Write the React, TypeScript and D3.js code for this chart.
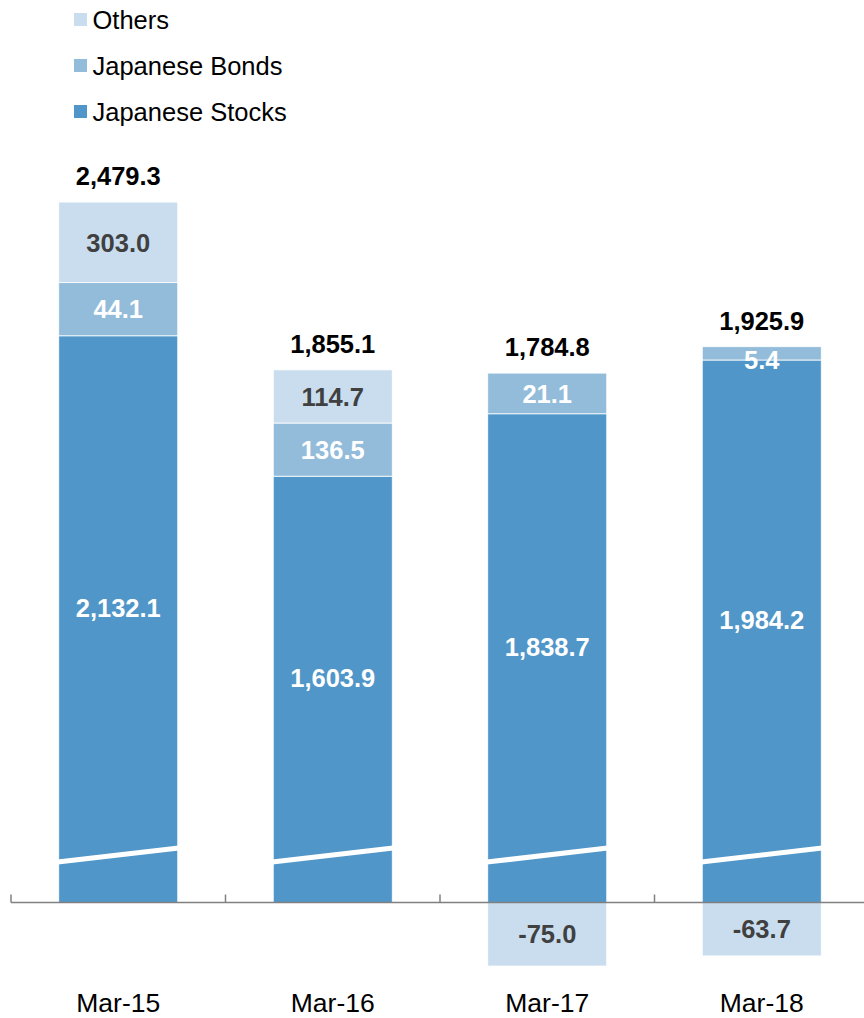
import { useEffect, useRef } from "react";
import * as d3 from "d3";

// values shown on the chart
const categories = ["Mar-15", "Mar-16", "Mar-17", "Mar-18"];
const stocks = [2132.1, 1603.9, 1838.7, 1984.2];
const bonds = [44.1, 136.5, 21.1, 5.4];
const others = [303.0, 114.7, -75.0, -63.7];
const totals = [2479.3, 1855.1, 1784.8, 1925.9];

// drawn extent of each segment (the chart enlarges small pieces)
const stocksDrawn = [2132.1, 1603.9, 1838.7, 2041];
const bondsDrawn = [200, 200, 153, 50];
const othersDrawn = [303.0, 200, -239, -201];

const legendItems = [
  { name: "Others", color: "#c9ddee" },
  { name: "Japanese Bonds", color: "#93bcda" },
  { name: "Japanese Stocks", color: "#5096c8" },
];

const locale = d3.formatLocale({ decimal: ".", thousands: ",", grouping: [3], currency: ["", ""], minus: "-" });
const fmt = locale.format(",.1f");
const FONT = "'Liberation Sans', Arial, sans-serif";

export default function App() {
  const svgRef = useRef<SVGSVGElement | null>(null);

  useEffect(() => {
    if (!svgRef.current) return;
    const width = 864;
    const svg = d3.select(svgRef.current);
    svg.selectAll("*").remove();

    const k = 0.2658; // px per unit
    const y0 = 902.5;
    const y = d3.scaleLinear().domain([0, 1]).range([y0, y0 - k]);
    const x = d3
      .scaleBand<string>()
      .domain(categories)
      .range([11, 11 + 214.5 * 4])
      .paddingInner(0.4452)
      .paddingOuter(0.2226);

    const [cStocks, cBonds, cOthers] = [legendItems[2].color, legendItems[1].color, legendItems[0].color];

    type Seg = { cat: string; lo: number; hi: number; color: string; label: string; textColor: string; kind: string };
    const segs: Seg[] = [];
    categories.forEach((c, i) => {
      segs.push({ cat: c, lo: 0, hi: stocksDrawn[i], color: cStocks, label: fmt(stocks[i]), textColor: "#fff", kind: "stocks" });
      const bTop = stocksDrawn[i] + bondsDrawn[i];
      segs.push({ cat: c, lo: stocksDrawn[i], hi: bTop, color: cBonds, label: fmt(bonds[i]), textColor: "#fff", kind: "bonds" });
      if (othersDrawn[i] >= 0) {
        segs.push({ cat: c, lo: bTop, hi: bTop + othersDrawn[i], color: cOthers, label: fmt(others[i]), textColor: "#404040", kind: "others" });
      } else {
        segs.push({ cat: c, lo: othersDrawn[i], hi: 0, color: cOthers, label: fmt(others[i]), textColor: "#404040", kind: "others" });
      }
    });

    const bw = x.bandwidth();

    svg
      .append("g")
      .selectAll("rect")
      .data(segs)
      .enter()
      .append("rect")
      .attr("x", d => x(d.cat)!)
      .attr("width", bw)
      .attr("y", d => y(d.hi))
      .attr("height", d => y(d.lo) - y(d.hi))
      .attr("fill", d => d.color)
      .attr("stroke", "#fff")
      .attr("stroke-width", 0.8);

    // axis break marks across the stocks bars
    const breakLo = 152;
    const breakHi = 205;
    svg
      .append("g")
      .selectAll("line")
      .data(categories)
      .enter()
      .append("line")
      .attr("x1", d => x(d)! - 1)
      .attr("x2", d => x(d)! + bw + 1)
      .attr("y1", y(breakLo))
      .attr("y2", y(breakHi))
      .attr("stroke", "#fff")
      .attr("stroke-width", 5);

    // baseline axis with ticks at band edges
    const axis = svg.append("g").attr("stroke", "#808080").attr("stroke-width", 1.5);
    axis.append("line").attr("x1", 11).attr("x2", width).attr("y1", y(0)).attr("y2", y(0));
    const edges = categories.map(c => x(c)! - (x.step() - bw) / 2);
    axis
      .selectAll("line.tick")
      .data(edges)
      .enter()
      .append("line")
      .attr("class", "tick")
      .attr("x1", d => d)
      .attr("x2", d => d)
      .attr("y1", y(0))
      .attr("y2", y(0) - 8);

    // segment labels
    const stocksLabelFloor = 83;
    svg
      .append("g")
      .selectAll("text")
      .data(segs)
      .enter()
      .append("text")
      .attr("x", d => x(d.cat)! + bw / 2)
      .attr("y", d => {
        if (d.kind === "stocks") return (y(d.hi) + y(stocksLabelFloor)) / 2;
        const mid = (y(d.hi) + y(d.lo)) / 2;
        // thin pieces: label sits on the lower edge
        return y(d.lo) - y(d.hi) < 20 ? y(d.lo) : mid;
      })
      .attr("dy", "0.36em")
      .attr("text-anchor", "middle")
      .attr("font-family", FONT)
      .attr("font-weight", "bold")
      .attr("font-size", 25.5)
      .attr("fill", d => d.textColor)
      .text(d => d.label);

    // totals
    svg
      .append("g")
      .selectAll("text")
      .data(categories)
      .enter()
      .append("text")
      .attr("x", d => x(d)! + bw / 2)
      .attr("y", (_d, i) => y(stocksDrawn[i] + bondsDrawn[i] + Math.max(0, othersDrawn[i])) - 17)
      .attr("text-anchor", "middle")
      .attr("font-family", FONT)
      .attr("font-weight", "bold")
      .attr("font-size", 25.5)
      .attr("fill", "#000")
      .text((_d, i) => fmt(totals[i]));

    // category labels
    svg
      .append("g")
      .selectAll("text")
      .data(categories)
      .enter()
      .append("text")
      .attr("x", d => x(d)! + bw / 2)
      .attr("y", 1012)
      .attr("text-anchor", "middle")
      .attr("font-family", FONT)
      .attr("font-size", 26.5)
      .attr("fill", "#000")
      .text(d => d);

    // legend
    const lg = svg
      .append("g")
      .selectAll("g")
      .data(legendItems)
      .enter()
      .append("g")
      .attr("transform", (_d, i) => `translate(74, ${29 + i * 46})`);
    lg.append("rect").attr("x", 0).attr("y", -16).attr("width", 13).attr("height", 13).attr("fill", d => d.color);
    lg.append("text")
      .attr("x", 18.5)
      .attr("y", 0)
      .attr("font-family", FONT)
      .attr("font-size", 25.5)
      .attr("fill", "#000")
      .text(d => d.name);
  }, []);

  return (
    <svg
      ref={svgRef}
      width={864}
      height={1018}
      style={{ position: "absolute", left: 0, top: 0, display: "block", background: "#fff" }}
    />
  );
}
